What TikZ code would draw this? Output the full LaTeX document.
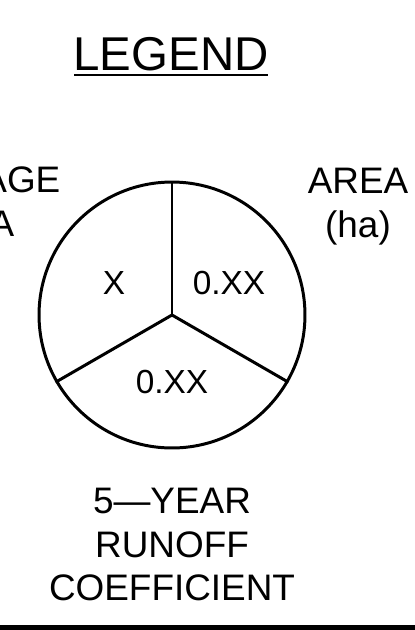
\documentclass[tikz,border=0pt]{standalone}
\usepackage{fontspec}
\setmainfont{Liberation Sans}
\usepackage{tikz}
\usetikzlibrary{positioning}

\begin{document}
\begin{tikzpicture}[x=0.02cm,y=-0.02cm,every node/.style={inner sep=0pt,anchor=base,font=\fontsize{21}{25}\selectfont}]
  \useasboundingbox (0,0) rectangle (415,630);
  \clip (0,0) rectangle (415,630);
  % Title
  \node (title) at (171,70) {\fontsize{27}{32}\selectfont LEGEND};
  \coordinate (ulA) at (74,75);
  \coordinate (ulB) at (268,75);
  \draw[line width=1.4pt] (ulA) -- (ulB);
  % Pie symbol
  \node[draw,circle,line width=1.7pt,minimum size=5.32cm,anchor=center] (pie) at (172,315) {};
  \draw[line width=1.7pt] (pie.center) -- (pie.90);
  \draw[line width=1.7pt] (pie.center) -- (pie.210);
  \draw[line width=1.7pt] (pie.center) -- (pie.330);
  \node[font=\fontsize{19}{23}\selectfont] (id) at (114,294) {X};
  \node[font=\fontsize{19}{23}\selectfont] (area) at (229,294) {0.XX};
  \node[font=\fontsize{19}{23}\selectfont] (coef) at (172,393) {0.XX};
  % Side labels
  \node (lefttop) at (-36,192) {DRAINAGE};
  \node (leftbot) at (-36,236) {AREA};
  \node (righttop) at (358,193) {AREA};
  \node (rightbot) at (358,237) {(ha)};
  % Bottom label
  \node (yr) at (172,513) {5—YEAR};
  \node (runoff) at (172,557) {RUNOFF};
  \node (coefficient) at (172,600) {COEFFICIENT};
  \coordinate (baseL) at (0,627.5);
  \coordinate (baseR) at (415,627.5);
  \draw[line width=2.8pt] (baseL) -- (baseR);
\end{tikzpicture}
\end{document}
